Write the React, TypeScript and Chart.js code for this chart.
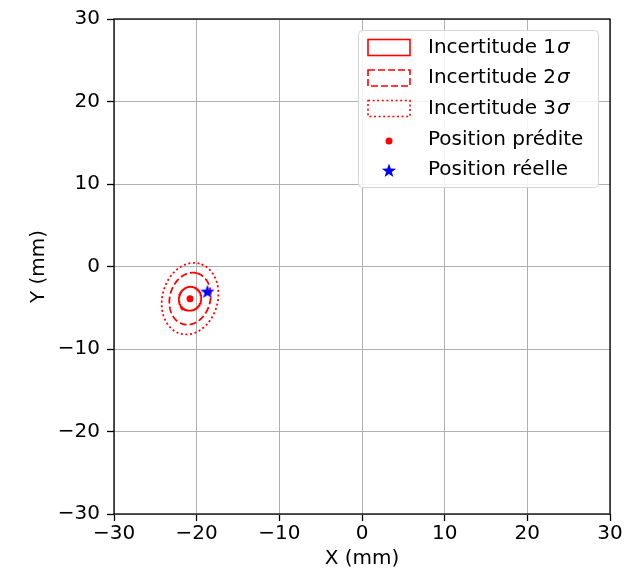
import React, { useEffect, useRef } from "react";
import { Chart, registerables } from "chart.js";

Chart.register(...registerables);

// ---- data ----
const axisMin = -30;
const axisMax = 30;
const tickStep = 10;

const predictedX = [-20.8];
const predictedY = [-3.9];
const actualX = [-18.7];
const actualY = [-3.1];

const sigmaLevels = [1, 2, 3];
const ellipseSemiMajor = [1.45, 3.2, 4.4];
const ellipseSemiMinor = [1.35, 2.45, 3.35];
const ellipseAngleDeg = 75;

const legendLabels = ["Incertitude 1", "Incertitude 2", "Incertitude 3", "Position prédite", "Position réelle"];
const xTitle = "X (mm)";
const yTitle = "Y (mm)";

const FONT = "'DejaVu Sans', 'Liberation Sans', sans-serif";
const dashStyles: number[][] = [[], [7, 3], [2, 2.6]];

function ellipsePoints(cx: number, cy: number, a: number, b: number, angDeg: number) {
  const phi = (angDeg * Math.PI) / 180;
  const pts: { x: number; y: number }[] = [];
  const n = 240;
  for (let i = 0; i <= n; i++) {
    const t = (i / n) * 2 * Math.PI;
    pts.push({
      x: cx + a * Math.cos(t) * Math.cos(phi) - b * Math.sin(t) * Math.sin(phi),
      y: cy + a * Math.cos(t) * Math.sin(phi) + b * Math.sin(t) * Math.cos(phi),
    });
  }
  return pts;
}

function makeStar(size: number, outer: number, inner: number, color: string) {
  const c = document.createElement("canvas");
  c.width = size;
  c.height = size;
  const g = c.getContext("2d")!;
  g.fillStyle = color;
  g.beginPath();
  for (let i = 0; i < 10; i++) {
    const r = i % 2 === 0 ? outer : inner;
    const ang = -Math.PI / 2 + (i * Math.PI) / 5;
    const px = size / 2 + r * Math.cos(ang);
    const py = size / 2 + r * Math.sin(ang);
    if (i === 0) g.moveTo(px, py);
    else g.lineTo(px, py);
  }
  g.closePath();
  g.fill();
  return c;
}

const minusFmt = (v: any) => String(v).replace("-", "\u2212");

export default function App() {
  const ref = useRef<HTMLCanvasElement | null>(null);

  useEffect(() => {
    const canvas = ref.current!;
    const star = makeStar(18, 7.5, 3.0, "#0000ff");

    const frameAndLegend = {
      id: "frameAndLegend",
      afterDatasetsDraw(chart: any) {
        const { ctx, chartArea } = chart;
        ctx.save();
        ctx.strokeStyle = "#000";
        ctx.lineWidth = 1.3;
        ctx.strokeRect(chartArea.left, chartArea.top, chartArea.right - chartArea.left, chartArea.bottom - chartArea.top);
        ctx.restore();
      },
      afterDraw(chart: any) {
        const { ctx, chartArea } = chart;
        const bx = chartArea.right - 252;
        const by = chartArea.top + 11;
        const bw = 240;
        const bh = 157;
        ctx.save();
        ctx.fillStyle = "rgba(255,255,255,0.85)";
        ctx.strokeStyle = "#d6d6d6";
        ctx.lineWidth = 1;
        ctx.beginPath();
        (ctx as any).roundRect(bx + 0.5, by + 0.5, bw, bh, 4);
        ctx.fill();
        ctx.stroke();

        const rowY = [by + 17.5, by + 48, by + 78.5, by + 109.5, by + 140];
        const textX = bx + 70;
        ctx.textBaseline = "middle";
        ctx.textAlign = "left";
        for (let i = 0; i < legendLabels.length; i++) {
          const y = rowY[i];
          if (i < 3) {
            ctx.strokeStyle = "#ff0000";
            ctx.lineWidth = 1.6;
            ctx.setLineDash(dashStyles[i]);
            ctx.strokeRect(bx + 10, y - 8, 42, 16);
            ctx.setLineDash([]);
            ctx.fillStyle = "#000";
            ctx.font = `20px ${FONT}`;
            ctx.fillText(legendLabels[i], textX, y);
            const w = ctx.measureText(legendLabels[i]).width;
            ctx.font = `italic 20px ${FONT}`;
            ctx.fillText("\u03c3", textX + w + 1, y);
          } else if (i === 3) {
            ctx.fillStyle = "#ff0000";
            ctx.beginPath();
            ctx.arc(bx + 31, y + 1.5, 3.5, 0, Math.PI * 2);
            ctx.fill();
            ctx.fillStyle = "#000";
            ctx.font = `20px ${FONT}`;
            ctx.fillText(legendLabels[i], textX, y);
          } else {
            ctx.drawImage(star, bx + 31 - 9, y + 1 - 9, 18, 18);
            ctx.fillStyle = "#000";
            ctx.font = `20px ${FONT}`;
            ctx.fillText(legendLabels[i], textX, y);
          }
        }
        ctx.restore();
      },
    };

    const ellipseDatasets = sigmaLevels.map((s, i) => ({
      label: `${s} sigma`,
      type: "scatter" as const,
      data: ellipsePoints(predictedX[0], predictedY[0], ellipseSemiMajor[i], ellipseSemiMinor[i], ellipseAngleDeg),
      showLine: true,
      borderColor: "#ff0000",
      borderWidth: 1.8,
      borderDash: dashStyles[i],
      borderCapStyle: "butt",
      pointRadius: 0,
      pointHoverRadius: 0,
      fill: false,
      tension: 0,
    }));

    const chart = new Chart(canvas, {
      type: "scatter",
      data: {
        datasets: [
          {
            label: "Position réelle",
            data: actualX.map((x, i) => ({ x, y: actualY[i] })),
            pointStyle: star as any,
            pointRadius: 9,
          },
          {
            label: "Position prédite",
            data: predictedX.map((x, i) => ({ x, y: predictedY[i] })),
            pointStyle: "circle",
            pointRadius: 3.5,
            backgroundColor: "#ff0000",
            borderWidth: 0,
          },
          ...(ellipseDatasets as any[]),
        ],
      },
      options: {
        responsive: false,
        animation: false,
        events: [],
        layout: { padding: { left: 0, top: 17, right: 19, bottom: 0 } },
        plugins: { legend: { display: false }, tooltip: { enabled: false } },
        scales: {
          x: {
            type: "linear",
            min: axisMin,
            max: axisMax,
            afterFit: (s: any) => {
              s.height = 57;
            },
            ticks: {
              stepSize: tickStep,
              padding: 1,
              color: "#000",
              font: { family: FONT, size: 20 },
              callback: minusFmt,
            },
            grid: {
              color: "#b0b0b0",
              lineWidth: 1,
              tickColor: "#000",
              tickLength: 7,
              tickWidth: 1.3,
            },
            border: { display: false },
            title: {
              display: true,
              text: xTitle,
              color: "#000",
              font: { family: FONT, size: 20 },
              padding: { top: 0, bottom: 0 },
            },
          },
          y: {
            type: "linear",
            min: axisMin,
            max: axisMax,
            afterFit: (s: any) => {
              s.width = 114;
            },
            ticks: {
              stepSize: tickStep,
              padding: 7,
              color: "#000",
              font: { family: FONT, size: 20 },
              callback: minusFmt,
            },
            grid: {
              color: "#b0b0b0",
              lineWidth: 1,
              tickColor: "#000",
              tickLength: 7,
              tickWidth: 1.3,
            },
            border: { display: false },
            title: {
              display: true,
              text: yTitle,
              color: "#000",
              font: { family: FONT, size: 20 },
              padding: { top: 27, bottom: 0 },
            },
          },
        },
      },
      plugins: [frameAndLegend],
    });

    return () => chart.destroy();
  }, []);

  return (
    <div style={{ position: "absolute", left: 0, top: 0, width: 629, height: 571, background: "#fff" }}>
      <canvas ref={ref} width={629} height={571} style={{ display: "block" }} />
    </div>
  );
}
